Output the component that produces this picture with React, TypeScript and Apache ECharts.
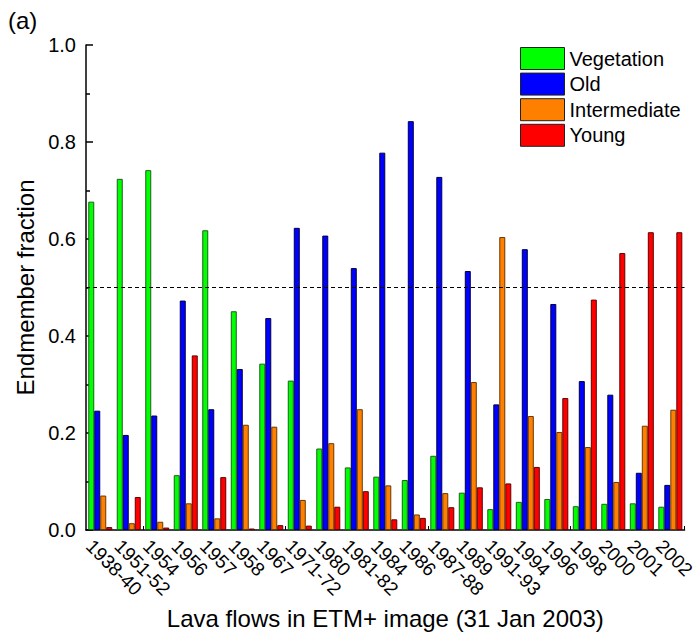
import { useEffect, useRef } from "react";
import * as echarts from "echarts";

const categories = [
  "1938-40", "1951-52", "1954", "1956", "1957", "1958", "1967", "1971-72", "1980", "1981-82",
  "1984", "1986", "1987-88", "1989", "1991-93", "1994", "1996", "1998", "2000", "2001", "2002",
];
const vegetation = [0.677, 0.724, 0.742, 0.113, 0.618, 0.451, 0.343, 0.308, 0.168, 0.129, 0.110, 0.103, 0.153, 0.077, 0.043, 0.058, 0.064, 0.049, 0.054, 0.055, 0.048];
const oldLava = [0.246, 0.196, 0.236, 0.473, 0.249, 0.332, 0.437, 0.623, 0.607, 0.540, 0.778, 0.843, 0.728, 0.534, 0.259, 0.579, 0.466, 0.307, 0.279, 0.118, 0.093];
const intermediate = [0.071, 0.014, 0.017, 0.055, 0.024, 0.217, 0.213, 0.062, 0.179, 0.249, 0.092, 0.032, 0.076, 0.305, 0.604, 0.235, 0.202, 0.171, 0.099, 0.215, 0.248];
const young = [0.006, 0.068, 0.005, 0.360, 0.109, 0.003, 0.010, 0.009, 0.048, 0.080, 0.022, 0.025, 0.047, 0.088, 0.096, 0.130, 0.272, 0.475, 0.571, 0.614, 0.614];
const seriesNames = ["Vegetation", "Old", "Intermediate", "Young"];
const thresholdValue = 0.5;

export default function App() {
  const ref = useRef<HTMLDivElement>(null);
  useEffect(() => {
    const chart = echarts.init(ref.current!, null, { renderer: "svg" });
    const font = "'Liberation Sans', Arial, sans-serif";
    const mk = (name: string, data: number[], color: string, border: string, extra: any = {}) => ({
      type: "bar",
      name,
      data,
      barWidth: 6,
      barGap: "0%",
      itemStyle: { color, borderColor: border, borderWidth: 1 },
      ...extra,
    });
    chart.setOption({
      animation: false,
      backgroundColor: "#fff",
      textStyle: { fontFamily: font, color: "#000" },
      grid: { left: 86, right: 10, top: 45, bottom: 100 },
      legend: {
        orient: "vertical",
        left: 520,
        top: 47,
        padding: 0,
        itemWidth: 44,
        itemHeight: 22,
        itemGap: 2.6,
        icon: "rect",
        data: seriesNames,
        itemStyle: { borderColor: "#222", borderWidth: 1 },
        textStyle: { fontSize: 20, color: "#000", fontFamily: font },
      },
      graphic: [
        { type: "text", left: 8, top: 8, style: { text: "(a)", fontSize: 24, fontFamily: font, fill: "#000" } },
      ],
      xAxis: {
        type: "category",
        data: categories,
        name: "Lava flows in ETM+ image (31 Jan 2003)",
        nameLocation: "middle",
        nameGap: 72,
        nameTextStyle: { fontSize: 24, color: "#000", fontFamily: font },
        axisLine: { lineStyle: { color: "#000", width: 1.5 } },
        axisTick: { show: true, inside: true, length: 4, interval: (i: number) => i % 5 === 2, lineStyle: { color: "#000" } },
        axisLabel: {
          interval: 0,
          rotate: -45,
          align: "left",
          verticalAlign: "top",
          padding: [6, 0, 0, 0],
          margin: 2,
          fontSize: 19,
          color: "#000",
          fontFamily: font,
        },
        splitLine: { show: false },
      },
      yAxis: {
        type: "value",
        min: 0,
        max: 1,
        interval: 0.2,
        name: "Endmember fraction",
        nameLocation: "middle",
        nameGap: 43,
        nameTextStyle: { fontSize: 24, color: "#000", fontFamily: font },
        axisLine: { show: true, lineStyle: { color: "#000", width: 1.5 } },
        axisTick: { show: true, inside: true, length: 7, lineStyle: { color: "#000", width: 1.5 } },
        minorTick: { show: true, splitNumber: 2, length: 4, lineStyle: { color: "#000", width: 1.5 } },
        axisLabel: { fontSize: 20, color: "#000", margin: 10, fontFamily: font, formatter: (v: number) => v.toFixed(1) },
        splitLine: { show: false },
      },
      series: [
        mk(seriesNames[0], vegetation, "#00ff00", "#1f5f1f", {
          markLine: {
            silent: true,
            symbol: "none",
            label: { show: false },
            lineStyle: { color: "#000", width: 1, type: [4, 3] },
            data: [{ yAxis: thresholdValue }],
          },
        }),
        mk(seriesNames[1], oldLava, "#0000ff", "#000040"),
        mk(seriesNames[2], intermediate, "#ff8000", "#6b3600"),
        mk(seriesNames[3], young, "#ff0000", "#600000"),
      ],
    });
    return () => chart.dispose();
  }, []);
  return (
    <div
      ref={ref}
      style={{ position: "fixed", left: 0, top: 0, width: 698, height: 635, background: "#fff" }}
    />
  );
}
